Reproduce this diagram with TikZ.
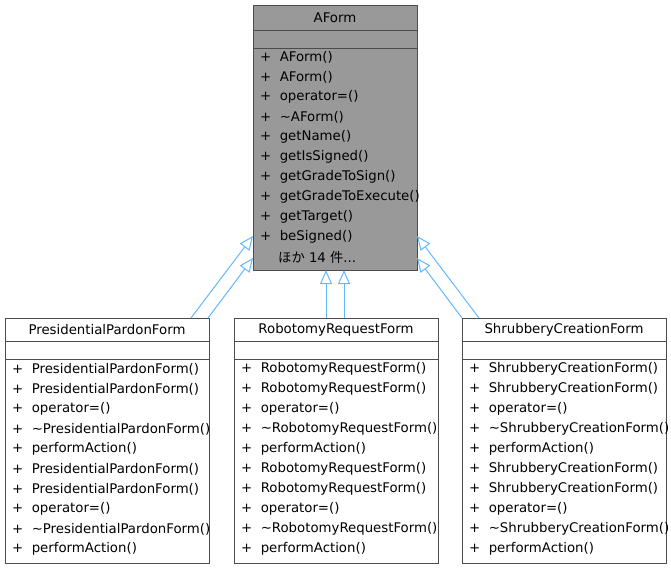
\documentclass[tikz,border=0pt]{standalone}
\usepackage{fontspec}
\setmainfont{DejaVu Sans}
\newfontfamily\cjk{Noto Sans CJK JP}
\usetikzlibrary{arrows.meta}
\definecolor{edge}{HTML}{63B8FF}
\definecolor{boxg}{HTML}{999999}
\begin{document}
\begin{tikzpicture}[x=1pt,y=-1pt,
  txt/.style={anchor=west,inner sep=0pt,font=\fontsize{13.3}{15}\selectfont},
  ttl/.style={inner sep=0pt,font=\fontsize{13.3}{15}\selectfont},
  inh/.style={draw=edge,line width=1pt,-{Triangle[open,length=14pt,width=12pt,fill=white]}}]
\useasboundingbox (0,0) rectangle (671,569);
% AForm
\fill[boxg] (253,5) rectangle (417,270);
\draw[black!70] (253,5) rectangle (417,270);
\draw[black!70] (253,30) -- (417,30) (253,48) -- (417,48);
\node[ttl] (at) at (335,17.5) {AForm};
\foreach \t [count=\i] in {AForm(),AForm(),operator=(),\textasciitilde AForm(),getName(),getIsSigned(),getGradeToSign(),getGradeToExecute(),getTarget(),beSigned()}{
  \node[txt] at (260,37+20*\i) {+\ \ \t};}
\node[txt] at (278,257) {{\cjk ほか} 14 {\cjk 件}...};
% children
\foreach \x/\n/\nm in {5/P/PresidentialPardonForm,234/R/RobotomyRequestForm,462/S/ShrubberyCreationForm}{
  \draw[black!70,fill=white] (\x,318) rectangle ++(204,245);
  \draw[black!70] (\x,341) -- ++(204,0) (\x,359) -- ++(204,0);
  \node[ttl] (\n) at (\x+102,329.5) {\nm};
  \foreach \t [count=\i] in {\nm(),\nm(),operator=(),\textasciitilde\nm(),performAction(),\nm(),\nm(),operator=(),\textasciitilde\nm(),performAction()}{
    \node[txt] at (\x+7,349+20*\i) {+\ \ \t};}
}
\coordinate (p1) at (191,318); \coordinate (p2) at (208,318);
\coordinate (a1) at (253,236); \coordinate (a2) at (253,258);
\coordinate (r1) at (326,318); \coordinate (r2) at (344,318);
\coordinate (b1) at (326,270); \coordinate (b2) at (344,270);
\coordinate (s1) at (479,318); \coordinate (s2) at (462,318);
\coordinate (c1) at (417,236); \coordinate (c2) at (417,258);
\draw[inh] (p1) -- (a1); \draw[inh] (p2) -- (a2);
\draw[inh] (r1) -- (b1); \draw[inh] (r2) -- (b2);
\draw[inh] (s1) -- (c1); \draw[inh] (s2) -- (c2);
\end{tikzpicture}
\end{document}
